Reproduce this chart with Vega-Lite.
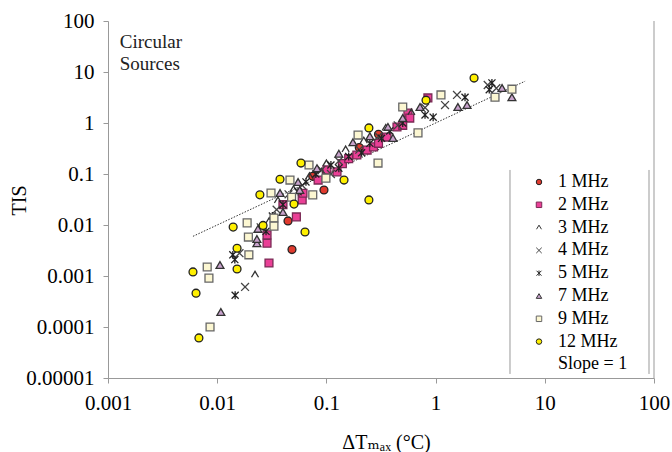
{
  "$schema": "https://vega.github.io/schema/vega-lite/v6.json",
  "width": 546,
  "height": 357,
  "autosize": "none",
  "padding": {"left": 108, "top": 21, "right": 18, "bottom": 74},
  "background": "white",
  "config": {
    "view": {"stroke": null},
    "font": "'Liberation Serif', 'DejaVu Serif', serif",
    "legend": {
      "labelFont": "'Liberation Serif', 'DejaVu Serif', serif",
      "labelFontSize": 18,
      "labelColor": "black",
      "symbolSize": 30,
      "rowPadding": 4.8,
      "labelOffset": 10,
      "padding": 0,
      "symbolStrokeWidth": 1
    }
  },
  "datasets": {
    "pts": [
      {"series": "1 MHz", "x": 0.0484, "y": 0.0033},
      {"series": "1 MHz", "x": 0.0445, "y": 0.012},
      {"series": "1 MHz", "x": 0.095, "y": 0.0485},
      {"series": "1 MHz", "x": 0.1, "y": 0.105},
      {"series": "1 MHz", "x": 0.075, "y": 0.09},
      {"series": "1 MHz", "x": 0.2, "y": 0.33},
      {"series": "1 MHz", "x": 0.3, "y": 0.6},

      {"series": "2 MHz", "x": 0.0286, "y": 0.0044},
      {"series": "2 MHz", "x": 0.0298, "y": 0.0018},
      {"series": "2 MHz", "x": 0.0286, "y": 0.0064},
      {"series": "2 MHz", "x": 0.0531, "y": 0.0144},
      {"series": "2 MHz", "x": 0.06, "y": 0.031},
      {"series": "2 MHz", "x": 0.061, "y": 0.042},
      {"series": "2 MHz", "x": 0.04, "y": 0.025},
      {"series": "2 MHz", "x": 0.084, "y": 0.076},
      {"series": "2 MHz", "x": 0.101, "y": 0.12},
      {"series": "2 MHz", "x": 0.125, "y": 0.11},
      {"series": "2 MHz", "x": 0.14, "y": 0.16},
      {"series": "2 MHz", "x": 0.16, "y": 0.2},
      {"series": "2 MHz", "x": 0.19, "y": 0.236},
      {"series": "2 MHz", "x": 0.236, "y": 0.295},
      {"series": "2 MHz", "x": 0.27, "y": 0.34},
      {"series": "2 MHz", "x": 0.3, "y": 0.4},
      {"series": "2 MHz", "x": 0.359, "y": 0.53},
      {"series": "2 MHz", "x": 0.443, "y": 0.836},
      {"series": "2 MHz", "x": 0.5, "y": 0.9},
      {"series": "2 MHz", "x": 0.558, "y": 1.57},
      {"series": "2 MHz", "x": 0.58, "y": 1.25},
      {"series": "2 MHz", "x": 0.85, "y": 3.1},

      {"series": "3 MHz", "x": 0.0222, "y": 0.00105},
      {"series": "3 MHz", "x": 0.03, "y": 0.012},
      {"series": "3 MHz", "x": 0.036, "y": 0.03},
      {"series": "3 MHz", "x": 0.05, "y": 0.05},
      {"series": "3 MHz", "x": 0.07, "y": 0.09},
      {"series": "3 MHz", "x": 0.09, "y": 0.11},
      {"series": "3 MHz", "x": 0.1, "y": 0.16},
      {"series": "3 MHz", "x": 0.15, "y": 0.3},
      {"series": "3 MHz", "x": 0.22, "y": 0.45},
      {"series": "3 MHz", "x": 0.35, "y": 0.8},
      {"series": "3 MHz", "x": 0.6, "y": 1.6},

      {"series": "4 MHz", "x": 0.018, "y": 0.00061},
      {"series": "4 MHz", "x": 0.016, "y": 0.0028},
      {"series": "4 MHz", "x": 0.025, "y": 0.009},
      {"series": "4 MHz", "x": 0.035, "y": 0.02},
      {"series": "4 MHz", "x": 0.045, "y": 0.04},
      {"series": "4 MHz", "x": 0.06, "y": 0.06},
      {"series": "4 MHz", "x": 0.09, "y": 0.12},
      {"series": "4 MHz", "x": 0.11, "y": 0.1},
      {"series": "4 MHz", "x": 0.13, "y": 0.18},
      {"series": "4 MHz", "x": 0.2, "y": 0.3},
      {"series": "4 MHz", "x": 0.3, "y": 0.55},
      {"series": "4 MHz", "x": 0.45, "y": 0.9},
      {"series": "4 MHz", "x": 0.8, "y": 2.0},
      {"series": "4 MHz", "x": 1.22, "y": 2.25},
      {"series": "4 MHz", "x": 1.57, "y": 3.55},
      {"series": "4 MHz", "x": 3.0, "y": 5.56},
      {"series": "4 MHz", "x": 3.6, "y": 4.8},

      {"series": "5 MHz", "x": 0.0146, "y": 0.00042},
      {"series": "5 MHz", "x": 0.0139, "y": 0.0026},
      {"series": "5 MHz", "x": 0.0145, "y": 0.0021},
      {"series": "5 MHz", "x": 0.028, "y": 0.0075},
      {"series": "5 MHz", "x": 0.032, "y": 0.015},
      {"series": "5 MHz", "x": 0.04, "y": 0.025},
      {"series": "5 MHz", "x": 0.055, "y": 0.045},
      {"series": "5 MHz", "x": 0.065, "y": 0.07},
      {"series": "5 MHz", "x": 0.08, "y": 0.1},
      {"series": "5 MHz", "x": 0.11, "y": 0.15},
      {"series": "5 MHz", "x": 0.13, "y": 0.13},
      {"series": "5 MHz", "x": 0.16, "y": 0.22},
      {"series": "5 MHz", "x": 0.21, "y": 0.26},
      {"series": "5 MHz", "x": 0.25, "y": 0.4},
      {"series": "5 MHz", "x": 0.32, "y": 0.5},
      {"series": "5 MHz", "x": 0.38, "y": 0.7},
      {"series": "5 MHz", "x": 0.5, "y": 1.0},
      {"series": "5 MHz", "x": 0.8, "y": 1.44},
      {"series": "5 MHz", "x": 0.95, "y": 1.3},
      {"series": "5 MHz", "x": 1.86, "y": 3.2},
      {"series": "5 MHz", "x": 3.1, "y": 4.5},
      {"series": "5 MHz", "x": 3.28, "y": 6.1},

      {"series": "7 MHz", "x": 0.0106, "y": 0.00164},
      {"series": "7 MHz", "x": 0.0108, "y": 0.000197},
      {"series": "7 MHz", "x": 0.0231, "y": 0.0044},
      {"series": "7 MHz", "x": 0.0376, "y": 0.0424},
      {"series": "7 MHz", "x": 0.0236, "y": 0.0084},
      {"series": "7 MHz", "x": 0.0231, "y": 0.0053},
      {"series": "7 MHz", "x": 0.055, "y": 0.0697},
      {"series": "7 MHz", "x": 0.04, "y": 0.018},
      {"series": "7 MHz", "x": 0.057, "y": 0.0485},
      {"series": "7 MHz", "x": 0.082, "y": 0.13},
      {"series": "7 MHz", "x": 0.13, "y": 0.25},
      {"series": "7 MHz", "x": 0.175, "y": 0.42},
      {"series": "7 MHz", "x": 0.25, "y": 0.55},
      {"series": "7 MHz", "x": 0.407, "y": 0.51},
      {"series": "7 MHz", "x": 0.366, "y": 0.84},
      {"series": "7 MHz", "x": 0.5, "y": 1.25},
      {"series": "7 MHz", "x": 0.72, "y": 2.06},
      {"series": "7 MHz", "x": 1.6, "y": 2.06},
      {"series": "7 MHz", "x": 1.94, "y": 2.25},
      {"series": "7 MHz", "x": 4.06, "y": 4.86},
      {"series": "7 MHz", "x": 5.0, "y": 3.2},

      {"series": "9 MHz", "x": 0.0081, "y": 0.0015},
      {"series": "9 MHz", "x": 0.0084, "y": 0.00091},
      {"series": "9 MHz", "x": 0.0086, "y": 0.0001},
      {"series": "9 MHz", "x": 0.0195, "y": 0.0026},
      {"series": "9 MHz", "x": 0.0188, "y": 0.011},
      {"series": "9 MHz", "x": 0.0193, "y": 0.0058},
      {"series": "9 MHz", "x": 0.0311, "y": 0.0424},
      {"series": "9 MHz", "x": 0.0464, "y": 0.076},
      {"series": "9 MHz", "x": 0.0693, "y": 0.15},
      {"series": "9 MHz", "x": 0.0331, "y": 0.0137},
      {"series": "9 MHz", "x": 0.0331, "y": 0.0095},
      {"series": "9 MHz", "x": 0.048, "y": 0.035},
      {"series": "9 MHz", "x": 0.075, "y": 0.039},
      {"series": "9 MHz", "x": 0.099, "y": 0.083},
      {"series": "9 MHz", "x": 0.195, "y": 0.58},
      {"series": "9 MHz", "x": 0.297, "y": 0.164},
      {"series": "9 MHz", "x": 0.69, "y": 0.64},
      {"series": "9 MHz", "x": 0.5, "y": 2.06},
      {"series": "9 MHz", "x": 1.12, "y": 3.55},
      {"series": "9 MHz", "x": 3.5, "y": 3.2},
      {"series": "9 MHz", "x": 5.0, "y": 4.6},

      {"series": "12 MHz", "x": 0.0068, "y": 0.000061},
      {"series": "12 MHz", "x": 0.0064, "y": 0.00046},
      {"series": "12 MHz", "x": 0.006, "y": 0.0012},
      {"series": "12 MHz", "x": 0.0152, "y": 0.00137},
      {"series": "12 MHz", "x": 0.0152, "y": 0.0035},
      {"series": "12 MHz", "x": 0.014, "y": 0.0091},
      {"series": "12 MHz", "x": 0.0263, "y": 0.0098},
      {"series": "12 MHz", "x": 0.0246, "y": 0.039},
      {"series": "12 MHz", "x": 0.0376, "y": 0.079},
      {"series": "12 MHz", "x": 0.0585, "y": 0.164},
      {"series": "12 MHz", "x": 0.0505, "y": 0.0257},
      {"series": "12 MHz", "x": 0.0637, "y": 0.0073},
      {"series": "12 MHz", "x": 0.245, "y": 0.031},
      {"series": "12 MHz", "x": 0.145, "y": 0.076},
      {"series": "12 MHz", "x": 0.245, "y": 0.8},
      {"series": "12 MHz", "x": 0.817, "y": 2.8},
      {"series": "12 MHz", "x": 2.25, "y": 7.6}
    ],
    "slope": [
      {"x": 0.006, "y": 0.006},
      {"x": 6.6, "y": 6.6}
    ],
    "rules": [
      {"x": 100, "y": 0.00001, "y2": 100},
      {"x": 4.8, "y": 0.000012, "y2": 0.12},
      {"x": 90, "y": 0.000012, "y2": 0.12}
    ],
    "note": [
      {"x": 0.00128, "y": 58, "text": "Circular\nSources"}
    ]
  },
  "encoding": {
    "x": {
      "field": "x",
      "type": "quantitative",
      "scale": {"type": "log", "domain": [0.001, 100], "nice": false},
      "axis": {
        "values": [0.001, 0.01, 0.1, 1, 10, 100],
        "labelExpr": "format(datum.value, '~g')",
        "grid": false,
        "domainColor": "#999999",
        "tickColor": "#999999",
        "tickSize": 5,
        "labelFlush": false,
        "labelOverlap": false,
        "labelFont": "'Liberation Serif', 'DejaVu Serif', serif",
        "labelFontSize": 21,
        "labelColor": "black",
        "labelPadding": 9,
        "title": "ΔTₘₐₓ (°C)",
        "titleFont": "'Liberation Serif', 'DejaVu Serif', serif",
        "titleFontSize": 20,
        "titleFontWeight": "normal",
        "titleColor": "black",
        "titleX": 278,
        "titleY": 64,
        "titleAlign": "center",
        "titleBaseline": "middle"
      }
    },
    "y": {
      "field": "y",
      "type": "quantitative",
      "scale": {"type": "log", "domain": [0.00001, 100], "nice": false},
      "axis": {
        "values": [0.00001, 0.0001, 0.001, 0.01, 0.1, 1, 10, 100],
        "labelExpr": "format(datum.value, '~g')",
        "grid": false,
        "domainColor": "#999999",
        "tickColor": "#999999",
        "tickSize": 5,
        "labelFlush": false,
        "labelOverlap": false,
        "labelFont": "'Liberation Serif', 'DejaVu Serif', serif",
        "labelFontSize": 21,
        "labelColor": "black",
        "labelPadding": 9,
        "title": "TIS",
        "titleFont": "'Liberation Serif', 'DejaVu Serif', serif",
        "titleFontSize": 20,
        "titleFontWeight": "normal",
        "titleColor": "black",
        "titleAngle": -90,
        "titleX": -89,
        "titleY": 179,
        "titleAlign": "center",
        "titleBaseline": "middle"
      }
    }
  },
  "layer": [
    {
      "data": {"name": "rules"},
      "mark": {"type": "rule", "color": "#999999", "strokeWidth": 1},
      "encoding": {"y2": {"field": "y2"}}
    },
    {
      "data": {"name": "slope"},
      "mark": {"type": "line", "color": "#333333", "strokeWidth": 1, "strokeDash": [1.5, 1.5]},
      "encoding": {}
    },
    {
      "data": {"name": "note"},
      "mark": {"type": "text", "align": "left", "baseline": "top", "lineBreak": "\n", "lineHeight": 22, "font": "'Liberation Serif', 'DejaVu Serif', serif", "fontSize": 19, "color": "#222222"},
      "encoding": {"text": {"field": "text"}}
    },
    {
      "data": {"name": "pts"},
      "mark": {"type": "point", "filled": false, "opacity": 1, "strokeWidth": 1.3, "size": 62},
      "encoding": {
        "shape": {
          "field": "series",
          "type": "nominal",
          "scale": {
            "domain": ["1 MHz", "2 MHz", "3 MHz", "4 MHz", "5 MHz", "7 MHz", "9 MHz", "12 MHz", "Slope = 1"],
            "range": ["circle", "square", "M-0.9,0.6L0,-0.9L0.9,0.6", "M-1,-1L1,1M-1,1L1,-1", "M-0.9,-0.9L0.9,0.9M-0.9,0.9L0.9,-0.9M0,-1L0,1", "triangle-up", "square", "circle", "M-1,0L1,0"]
          },
          "legend": {"orient": "none", "legendX": 422, "legendY": 152, "title": null}
        },
        "fill": {
          "field": "series",
          "type": "nominal",
          "scale": {
            "domain": ["1 MHz", "2 MHz", "3 MHz", "4 MHz", "5 MHz", "7 MHz", "9 MHz", "12 MHz", "Slope = 1"],
            "range": ["#e03a2e", "#ea3f96", "transparent", "transparent", "transparent", "#c8a2cc", "#fcf7d2", "#fff000", "transparent"]
          },
          "legend": {"orient": "none", "legendX": 422, "legendY": 152, "title": null}
        },
        "stroke": {
          "field": "series",
          "type": "nominal",
          "scale": {
            "domain": ["1 MHz", "2 MHz", "3 MHz", "4 MHz", "5 MHz", "7 MHz", "9 MHz", "12 MHz", "Slope = 1"],
            "range": ["#222222", "#7a2a55", "#333333", "#444444", "#222222", "#333333", "#666666", "#222222", "transparent"]
          },
          "legend": {"orient": "none", "legendX": 422, "legendY": 152, "title": null}
        }
      }
    }
  ]
}
